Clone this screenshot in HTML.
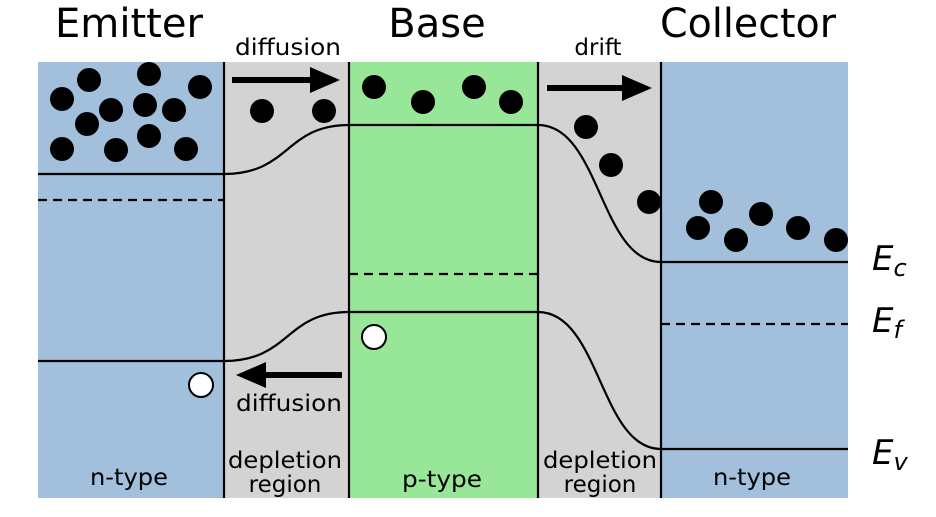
<!DOCTYPE html>
<html><head><style>body{margin:0;background:#fff}</style></head><body>
<svg width="936" height="512" viewBox="0 0 936 512" xmlns="http://www.w3.org/2000/svg" font-family="DejaVu Sans, Liberation Sans, sans-serif">
<rect x="38" y="62" width="186" height="436" fill="#a2c0dc"/>
<rect x="224" y="62" width="125" height="436" fill="#d3d3d3"/>
<rect x="349" y="62" width="189" height="436" fill="#98e698"/>
<rect x="538" y="62" width="123" height="436" fill="#d3d3d3"/>
<rect x="661" y="62" width="187" height="436" fill="#a2c0dc"/>
<g stroke="#000" stroke-width="2.2" fill="none">
<line x1="224" y1="62" x2="224" y2="498"/><line x1="349" y1="62" x2="349" y2="498"/>
<line x1="538" y1="62" x2="538" y2="498"/><line x1="661" y1="62" x2="661" y2="498"/>
<path d="M38 174 H224 C290 174 285 125 349 125 H538 C600 125 600 262 661 262 H848"/>
<path d="M38 361 H224 C290 361 285 312 349 312 H538 C600 312 600 449 661 449 H848"/>
<g stroke-dasharray="9,6"><line x1="38" y1="200" x2="224" y2="200"/><line x1="349" y1="274" x2="538" y2="274"/><line x1="661" y1="324" x2="848" y2="324"/></g>
</g>
<g fill="#000">
<circle cx="62" cy="99" r="12"/><circle cx="89" cy="80" r="12"/><circle cx="149" cy="74" r="12"/><circle cx="200" cy="87" r="12"/>
<circle cx="111" cy="110" r="12"/><circle cx="145" cy="105" r="12"/><circle cx="174" cy="110" r="12"/><circle cx="87" cy="124" r="12"/>
<circle cx="62" cy="149" r="12"/><circle cx="116" cy="150" r="12"/><circle cx="149" cy="136" r="12"/><circle cx="186" cy="149" r="12"/>
<circle cx="262" cy="111" r="12"/><circle cx="324" cy="111" r="12"/>
<circle cx="374" cy="87" r="12"/><circle cx="423" cy="102" r="12"/><circle cx="474" cy="87" r="12"/><circle cx="511" cy="102" r="12"/>
<circle cx="586" cy="127" r="12"/><circle cx="611" cy="165" r="12"/><circle cx="649" cy="202" r="12"/>
<circle cx="711" cy="202" r="12"/><circle cx="698" cy="228" r="12"/><circle cx="736" cy="240" r="12"/><circle cx="761" cy="214" r="12"/><circle cx="798" cy="228" r="12"/><circle cx="836" cy="240" r="12"/>
<rect x="232" y="77" width="80" height="6"/><polygon points="310,67 340,80 310,93"/>
<rect x="547" y="85" width="77" height="6"/><polygon points="622,75 652,88 622,101"/>
<rect x="264" y="372" width="78" height="6"/><polygon points="266,362 236,375 266,388"/>
</g>
<g fill="#fff" stroke="#000" stroke-width="2"><ellipse cx="201" cy="385" rx="12" ry="12"/><ellipse cx="374" cy="337" rx="12" ry="12"/></g>
<g font-size="40" text-anchor="middle"><text x="129" y="37" textLength="148" lengthAdjust="spacingAndGlyphs">Emitter</text><text x="437" y="37">Base</text><text x="748" y="37" textLength="176" lengthAdjust="spacingAndGlyphs">Collector</text></g>
<g font-size="23" text-anchor="middle">
<text x="288" y="55" textLength="106" lengthAdjust="spacingAndGlyphs">diffusion</text><text x="598" y="55">drift</text><text x="289" y="411" textLength="106" lengthAdjust="spacingAndGlyphs">diffusion</text>
<text x="129" y="485" textLength="78" lengthAdjust="spacingAndGlyphs">n-type</text><text x="442" y="487" textLength="80" lengthAdjust="spacingAndGlyphs">p-type</text><text x="752" y="485" textLength="78" lengthAdjust="spacingAndGlyphs">n-type</text>
<text x="285" y="468" textLength="114" lengthAdjust="spacingAndGlyphs">depletion</text><text x="285" y="492">region</text>
<text x="600" y="468" textLength="114" lengthAdjust="spacingAndGlyphs">depletion</text><text x="600" y="492">region</text>
</g>
<g font-size="34" font-style="italic">
<text x="872" y="270">E<tspan font-size="24" dy="6">c</tspan></text>
<text x="872" y="332">E<tspan font-size="24" dy="6">f</tspan></text>
<text x="872" y="464">E<tspan font-size="24" dy="6">v</tspan></text>
</g>
</svg>
</body></html>
